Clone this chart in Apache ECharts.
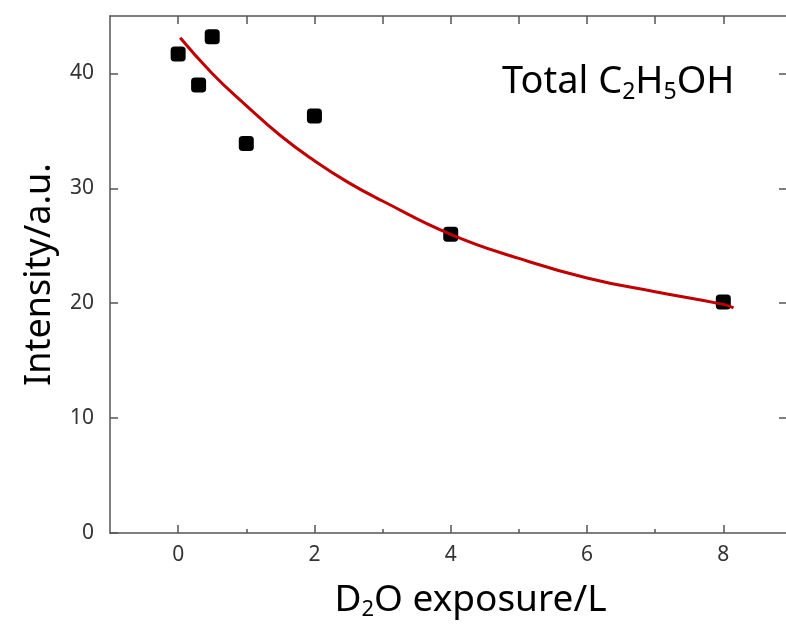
<!DOCTYPE html>
<html>
<head>
<meta charset="utf-8">
<script src="https://cdn.jsdelivr.net/npm/echarts@6/dist/echarts.min.js"></script>
<style>
  html, body { margin: 0; padding: 0; background: #fff; }
  #chart { width: 786px; height: 626px; }
</style>
</head>
<body>
<div id="chart"></div>
<script>
// measured points
const exposure = [0, 0.3, 0.5, 1, 2, 4, 8]
const intensity = [41.7, 39.0, 43.2, 33.9, 36.3, 26.0, 20.1]
// fit curve
const fitX = [0.03, 0.5, 1, 1.5, 2, 2.5, 3, 4, 5, 6, 7, 8, 8.15]
const fitY = [43.1, 40.0, 37.2, 34.6, 32.4, 30.5, 28.9, 26.0, 23.9, 22.2, 21.0, 19.9, 19.6]
const xLabels = [0, 2, 4, 6, 8]
const xMinor = [1, 3, 5, 7]
const xTop = [0, 1, 2, 3, 4, 5, 6, 7, 8]
const yLabels = [0, 10, 20, 30, 40]

const font = '"Noto Sans", "Open Sans", sans-serif'
const frame = '#555'
// the source frame is cut at the right edge of the picture
const xMin = -1
const xMax = 8.92

const chart = echarts.init(document.getElementById('chart'))

const hidden = { show: false }
const line = { show: true, onZero: false, lineStyle: { color: frame, width: 1.5 } }
const noLine = { show: false, onZero: false }

// axis that only draws inward ticks at the given values
function tickAxis(position, min, max, values, len) {
  return {
    type: 'value', min: min, max: max, position: position,
    axisLine: noLine, axisLabel: hidden, splitLine: hidden,
    axisTick: { show: true, inside: true, length: len, customValues: values, lineStyle: { color: frame, width: 1.5 } },
  }
}

const option = {
  animation: false,
  grid: { left: 110, top: 16, right: 0, bottom: 92 },
  xAxis: [
    {
      type: 'value', min: xMin, max: xMax, position: 'bottom',
      axisLine: line,
      axisTick: hidden,
      axisLabel: { customValues: xLabels, color: '#333', fontSize: 21, fontFamily: font, margin: 12 },
      splitLine: hidden,
      name: '{t|D}{s|2}{t|O exposure/L}',
      nameLocation: 'middle',
      nameGap: 46,
      nameTextStyle: {
        padding: [0, 0, 0, 45],
        rich: {
          t: { fontSize: 37, fontFamily: font, color: '#000' },
          s: { fontSize: 22, fontFamily: font, color: '#000', padding: [20, 0, 0, 0] },
        },
      },
    },
    tickAxis('bottom', xMin, xMax, xLabels, 8),
    tickAxis('bottom', xMin, xMax, xMinor, 4),
    Object.assign(tickAxis('top', xMin, xMax, xTop, 8), { axisLine: line }),
  ],
  yAxis: [
    {
      type: 'value', min: 0, max: 45, position: 'left',
      axisLine: line,
      axisTick: hidden,
      axisLabel: { customValues: yLabels, color: '#333', fontSize: 21, fontFamily: font, margin: 16 },
      splitLine: hidden,
      name: 'Intensity/a.u.',
      nameLocation: 'middle',
      nameGap: 52,
      nameTextStyle: { fontSize: 36, fontFamily: font, color: '#000' },
    },
    tickAxis('left', 0, 45, yLabels, 8),
    tickAxis('right', 0, 45, yLabels.slice(1), 7),
  ],
  series: [
    {
      type: 'scatter',
      symbol: 'roundRect',
      symbolSize: 15,
      itemStyle: { color: '#000', opacity: 1 },
      data: exposure.map((x, i) => [x, intensity[i]]),
      z: 2,
    },
    {
      type: 'line',
      smooth: true,
      showSymbol: false,
      lineStyle: { color: '#c00000', width: 3 },
      data: fitX.map((x, i) => [x, fitY[i]]),
      z: 3,
    },
  ],
  graphic: [
    {
      type: 'text',
      left: 502,
      top: 63,
      style: {
        text: '{t|Total C}{s|2}{t|H}{s|5}{t|OH}',
        rich: {
          t: { fontSize: 38, fontFamily: font, fill: '#000' },
          s: { fontSize: 23, fontFamily: font, fill: '#000', padding: [20, 0, 0, 0] },
        },
      },
    },
  ],
}

chart.setOption(option)
</script>
</body>
</html>
